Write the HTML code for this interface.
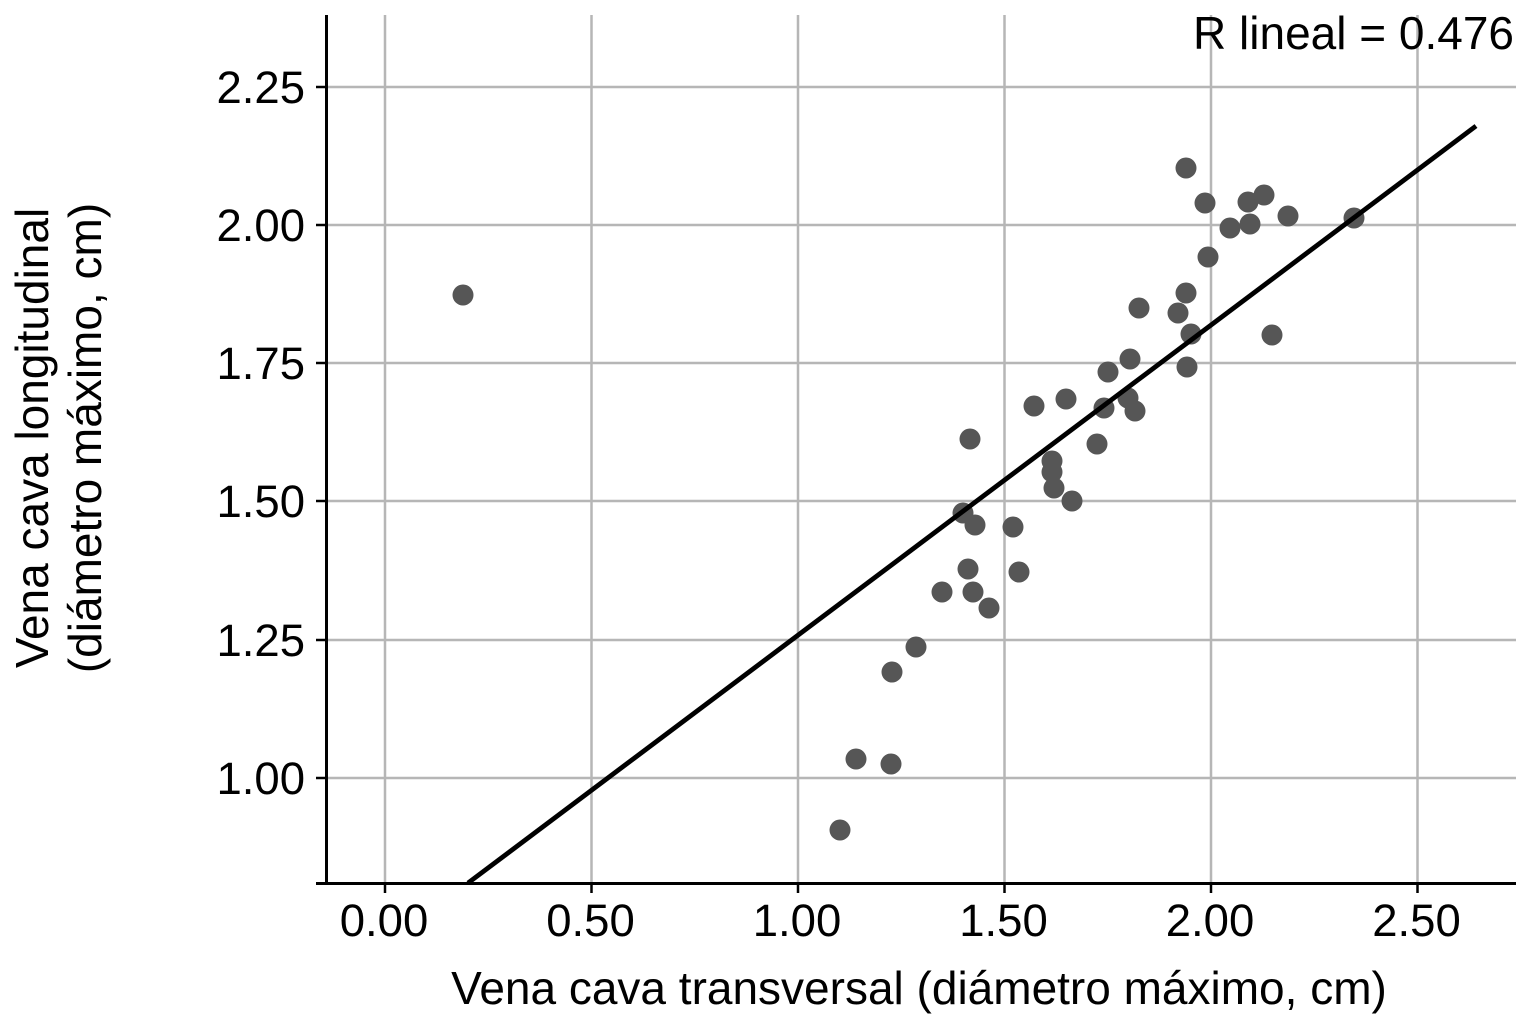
<!DOCTYPE html>
<html>
<head>
<meta charset="utf-8">
<style>
  html, body { margin: 0; padding: 0; background: #ffffff; }
  svg { display: block; }
  text { font-family: "Liberation Sans", "DejaVu Sans", sans-serif; fill: #000; }
</style>
</head>
<body>
<svg width="1516" height="1024" viewBox="0 0 1516 1024" xmlns="http://www.w3.org/2000/svg">
  <rect x="0" y="0" width="1516" height="1024" fill="#ffffff"/>

  <g stroke="#b6b6b6" stroke-width="2.5">
    <line x1="385" y1="15" x2="385" y2="883"/>
    <line x1="591.5" y1="15" x2="591.5" y2="883"/>
    <line x1="798" y1="15" x2="798" y2="883"/>
    <line x1="1004.5" y1="15" x2="1004.5" y2="883"/>
    <line x1="1211" y1="15" x2="1211" y2="883"/>
    <line x1="1417.5" y1="15" x2="1417.5" y2="883"/>
    <line x1="326" y1="87" x2="1516" y2="87"/>
    <line x1="326" y1="225" x2="1516" y2="225"/>
    <line x1="326" y1="363" x2="1516" y2="363"/>
    <line x1="326" y1="501" x2="1516" y2="501"/>
    <line x1="326" y1="640" x2="1516" y2="640"/>
    <line x1="326" y1="778" x2="1516" y2="778"/>
  </g>

  <g fill="#565656">
    <circle cx="463" cy="295" r="10.5"/>
    <circle cx="1186" cy="168" r="10.5"/>
    <circle cx="1205" cy="203" r="10.5"/>
    <circle cx="1248" cy="202" r="10.5"/>
    <circle cx="1264" cy="195" r="10.5"/>
    <circle cx="1288" cy="216" r="10.5"/>
    <circle cx="1354" cy="218" r="10.5"/>
    <circle cx="1230" cy="228" r="10.5"/>
    <circle cx="1250" cy="224" r="10.5"/>
    <circle cx="1208" cy="257" r="10.5"/>
    <circle cx="1186" cy="293" r="10.5"/>
    <circle cx="1178" cy="313" r="10.5"/>
    <circle cx="1139" cy="308" r="10.5"/>
    <circle cx="1191" cy="334" r="10.5"/>
    <circle cx="1272" cy="335" r="10.5"/>
    <circle cx="1130" cy="359" r="10.5"/>
    <circle cx="1187" cy="367" r="10.5"/>
    <circle cx="1108" cy="372" r="10.5"/>
    <circle cx="1066" cy="399" r="10.5"/>
    <circle cx="1128" cy="398" r="10.5"/>
    <circle cx="1034" cy="406" r="10.5"/>
    <circle cx="1104" cy="408" r="10.5"/>
    <circle cx="1135" cy="411" r="10.5"/>
    <circle cx="970" cy="439" r="10.5"/>
    <circle cx="1097" cy="444" r="10.5"/>
    <circle cx="1052" cy="461" r="10.5"/>
    <circle cx="1052" cy="472" r="10.5"/>
    <circle cx="1054" cy="488" r="10.5"/>
    <circle cx="1072" cy="501" r="10.5"/>
    <circle cx="963" cy="513" r="10.5"/>
    <circle cx="975" cy="525" r="10.5"/>
    <circle cx="1013" cy="527" r="10.5"/>
    <circle cx="968" cy="569" r="10.5"/>
    <circle cx="1019" cy="572" r="10.5"/>
    <circle cx="942" cy="592" r="10.5"/>
    <circle cx="973" cy="592" r="10.5"/>
    <circle cx="989" cy="608" r="10.5"/>
    <circle cx="916" cy="647" r="10.5"/>
    <circle cx="892" cy="672" r="10.5"/>
    <circle cx="856" cy="759" r="10.5"/>
    <circle cx="891" cy="764" r="10.5"/>
    <circle cx="840" cy="830" r="10.5"/>
  </g>

  <line x1="468" y1="883" x2="1476" y2="126" stroke="#000" stroke-width="4.8"/>

  <g stroke="#000" stroke-width="3">
    <line x1="326.5" y1="15" x2="326.5" y2="884.5"/>
    <line x1="316" y1="883.5" x2="1516" y2="883.5"/>
  </g>
  <g stroke="#000" stroke-width="2.5">
    <line x1="385" y1="883" x2="385" y2="893"/>
    <line x1="591.5" y1="883" x2="591.5" y2="893"/>
    <line x1="798" y1="883" x2="798" y2="893"/>
    <line x1="1004.5" y1="883" x2="1004.5" y2="893"/>
    <line x1="1211" y1="883" x2="1211" y2="893"/>
    <line x1="1417.5" y1="883" x2="1417.5" y2="893"/>
    <line x1="316" y1="87" x2="326" y2="87"/>
    <line x1="316" y1="225" x2="326" y2="225"/>
    <line x1="316" y1="363" x2="326" y2="363"/>
    <line x1="316" y1="501" x2="326" y2="501"/>
    <line x1="316" y1="640" x2="326" y2="640"/>
    <line x1="316" y1="778" x2="326" y2="778"/>
  </g>

  <g font-size="45.5" text-anchor="middle">
    <text x="384" y="936">0.00</text>
    <text x="590.5" y="936">0.50</text>
    <text x="797" y="936">1.00</text>
    <text x="1003.5" y="936">1.50</text>
    <text x="1210" y="936">2.00</text>
    <text x="1416.5" y="936">2.50</text>
  </g>

  <g font-size="45.5" text-anchor="end">
    <text x="305" y="103">2.25</text>
    <text x="305" y="241">2.00</text>
    <text x="305" y="379">1.75</text>
    <text x="305" y="517">1.50</text>
    <text x="305" y="656">1.25</text>
    <text x="305" y="794">1.00</text>
  </g>

  <text x="919" y="1004" font-size="46" text-anchor="middle">Vena cava transversal (diámetro máximo, cm)</text>
  <g transform="translate(0,438)">
    <text transform="translate(48,0) rotate(-90)" font-size="46" text-anchor="middle">Vena cava longitudinal</text>
    <text transform="translate(101,0) rotate(-90)" font-size="46" text-anchor="middle">(diámetro máximo, cm)</text>
  </g>

  <text x="1514" y="49" font-size="46" text-anchor="end">R lineal = 0.476</text>
</svg>
</body>
</html>
